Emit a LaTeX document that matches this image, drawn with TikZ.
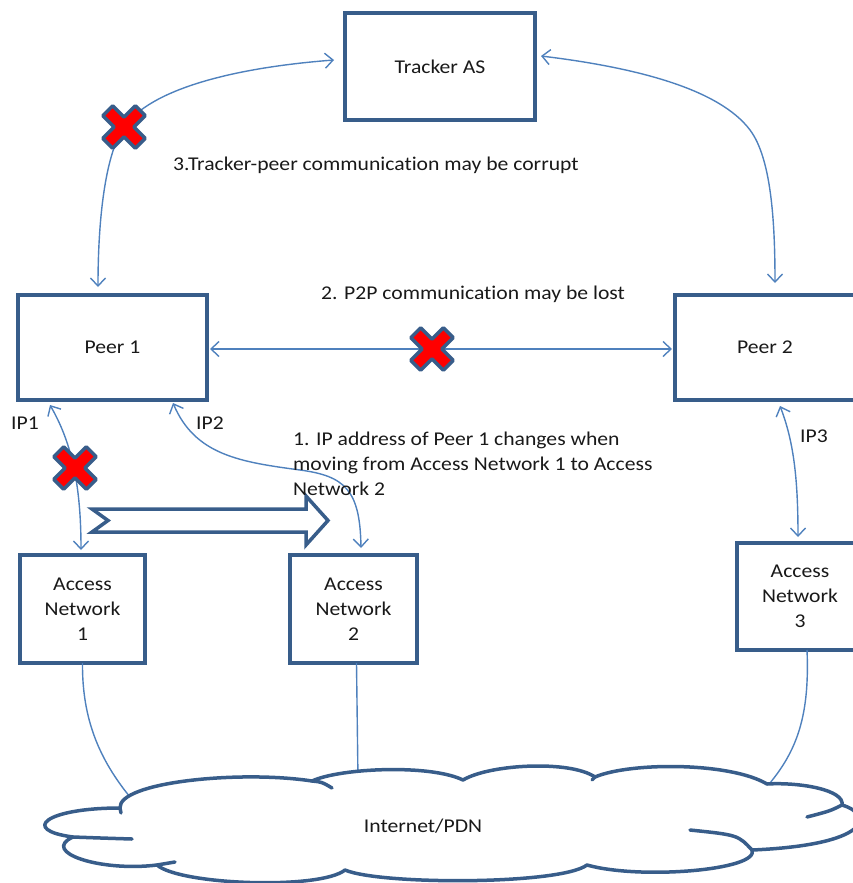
\documentclass[tikz,border=0pt]{standalone}
\usepackage{fontspec}
\setmainfont{Carlito}[FakeStretch=1.11, Ligatures=NoCommon]
\usetikzlibrary{arrows.meta,calc}
\definecolor{boxblue}{RGB}{56,93,138}
\definecolor{linkblue}{RGB}{79,129,189}
\definecolor{inkgray}{RGB}{25,25,25}
\tikzset{
  netbox/.style={draw=boxblue, line width=4pt, fill=white, align=center,
    inner sep=0pt, outer sep=0pt, text=inkgray},
  link/.style={draw=linkblue, line width=1.4pt},
  twoway/.style={link, {Straight Barb[length=8pt,width=15pt]}-{Straight Barb[length=8pt,width=15pt]}},
  note/.style={inner sep=0pt, anchor=west, text=inkgray},
  cloudline/.style={draw=boxblue, line width=3.5pt, line join=round, line cap=round},
  cutmark/.pic={
    \draw[draw=boxblue, fill=red, line width=3.5pt, line join=round, rotate=45]
      (7,7) -- (23,7) -- (23,-7) -- (7,-7) -- (7,-23) -- (-7,-23) -- (-7,-7)
      -- (-23,-7) -- (-23,7) -- (-7,7) -- (-7,23) -- (7,23) -- cycle;
  }
}
\begin{document}
\begin{tikzpicture}[x=1pt,y=-1pt,
  every node/.append style={font=\fontsize{19.5}{25}\selectfont}]
\useasboundingbox (0,0) rectangle (853,883);

% boxes
\node[netbox, minimum width=190, minimum height=107] (tracker) at (440,66.5) {Tracker AS};
\node[netbox, minimum width=189, minimum height=105] (peerA) at (112.5,347.5) {Peer 1};
\node[netbox, minimum width=180, minimum height=105] (peerB) at (765,347.5) {Peer 2};
\node[netbox, minimum width=125, minimum height=108] (accA) at (82.5,609) {Access\\Network\\1};
\node[netbox, minimum width=127, minimum height=108] (accB) at (353.5,609) {Access\\Network\\2};
\node[netbox, minimum width=126, minimum height=107] (accC) at (800,596.5) {Access\\Network\\3};

% points where the links break
\coordinate (cutTracker) at (124,127);
\coordinate (cutPeers) at (432,349);
\coordinate (cutAccess) at (75,468);

% points where the access links meet the cloud
\coordinate (cloudA) at (130,797);
\coordinate (cloudB) at (358,780);
\coordinate (cloudC) at (764,790);

% tracker links
\draw[twoway] ($(tracker.west)+(-11,-6.5)$) .. controls (230,68) and (150,90) .. (cutTracker)
  .. controls (105,155) and (98,220) .. ($(peerA.north)+(-14.5,-8)$);
\draw[twoway] ($(tracker.east)+(6,-10.5)$) .. controls (640,68) and (720,90) .. (750,130)
  .. controls (771,158) and (775,220) .. ($(peerB.north)+(10,-12)$);

% peer-to-peer link
\draw[twoway] ($(peerA.east)+(3,1.5)$) -- (cutPeers) -- ($(peerB.west)+(-3,1.5)$);

% peer to access network links
\draw[twoway] ($(peerA.south)+(-62.5,5)$) .. controls (70,440) and (81,480) .. ($(accA.north)+(-1.5,-5)$);
\draw[twoway] ($(peerA.south)+(60.5,3)$) .. controls (195,455) and (240,462) .. (300,470)
  .. controls (345,476) and (360,490) .. ($(accB.north)+(7.5,-7)$);
\draw[twoway] ($(peerB.south)+(15,6)$) .. controls (793,440) and (798,475) .. ($(accC.north)+(-2,-6)$);

% access networks to the cloud
\draw[link] (accA.south) .. controls (82,720) and (100,760) .. (cloudA);
\draw[link] ($(accB.south)+(3,0)$) -- (cloudB);
\draw[link] ($(accC.south)+(7,0)$) .. controls (810,720) and (795,755) .. (cloudC);

% move arrow
\draw[boxblue, line width=3.5pt, fill=white, line join=miter]
  (92,509) -- (306,509) -- (306,496) -- (328,520.5) -- (306,545) -- (306,532)
  -- (92,532) -- (108,520.5) -- cycle;

% cloud
\draw[cloudline, fill=white]
  (120,808) .. controls (118,782) and (240,770) .. (312,781)
  .. controls (340,768) and (430,764) .. (463,780)
  .. controls (490,764) and (570,760) .. (595,777)
  .. controls (630,762) and (730,762) .. (767,784)
  .. controls (800,782) and (845,790) .. (842,805)
  .. controls (875,815) and (870,845) .. (752,850)
  .. controls (760,870) and (640,880) .. (587,865)
  .. controls (560,885) and (380,885) .. (345,870)
  .. controls (320,890) and (180,885) .. (157,865)
  .. controls (100,872) and (40,852) .. (73,837)
  .. controls (20,830) and (45,808) .. (120,808) -- cycle;
\draw[cloudline] (312,781) .. controls (322,782) .. (332,788);
\draw[cloudline] (842,805) .. controls (830,811) .. (807,817);
\draw[cloudline] (752,850) .. controls (738,835) .. (690,830);
\draw[cloudline] (157,865) -- (175,862);
\draw[cloudline] (73,837) .. controls (100,838) .. (132,839);
\draw[cloudline] (120,808) -- (121,813);
\draw[cloudline] (595,777) -- (592,780);

% break marks
\pic at (cutTracker) {cutmark};
\pic at (cutPeers) {cutmark};
\pic at (cutAccess) {cutmark};

% labels
\node[note] (msgThree) at (173,165) {3.Tracker-peer communication may be corrupt};
\node[note] (msgTwo) at (321,294) {2. P2P communication may be lost};
\node[note, align=left] (msgOne) at (293,464) {1. IP address of Peer 1 changes when\\moving from Access Network 1 to Access\\Network 2};
\node[note] (ipA) at (11,423) {IP1};
\node[note] (ipB) at (196,423) {IP2};
\node[note] (ipC) at (800,436) {IP3};
\node[text=inkgray] (net) at (423,826) {Internet/PDN};
\end{tikzpicture}
\end{document}
